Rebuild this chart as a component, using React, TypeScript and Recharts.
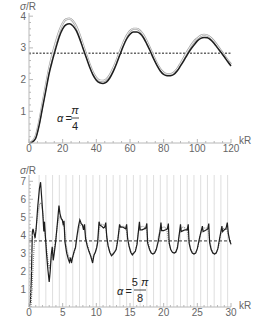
import React from "react";
import { Line, LineChart, ReferenceLine, XAxis, YAxis } from "recharts";

// top panel: alpha = pi/4, kR 0..120
const topKR = [0, 2, 4, 6, 8, 10, 12, 14, 16, 18, 20, 22, 24, 26, 28, 30, 32, 34, 36, 38, 40, 42, 44, 46, 48, 50, 52, 54, 56, 58, 60, 62, 64, 66, 68, 70, 72, 74, 76, 78, 80, 82, 84, 86, 88, 90, 92, 94, 96, 98, 100, 102, 104, 106, 108, 110, 112, 114, 116, 118, 120];
const topBlack = [0, 0.03, 0.15, 0.55, 1.1, 1.65, 2.2, 2.62, 3.0, 3.35, 3.6, 3.73, 3.76, 3.7, 3.55, 3.3, 3.0, 2.7, 2.4, 2.15, 1.98, 1.9, 1.88, 1.92, 2.05, 2.25, 2.5, 2.78, 3.05, 3.28, 3.43, 3.5, 3.5, 3.45, 3.32, 3.12, 2.9, 2.66, 2.45, 2.27, 2.16, 2.12, 2.12, 2.16, 2.27, 2.43, 2.6, 2.78, 2.95, 3.09, 3.22, 3.3, 3.33, 3.32, 3.25, 3.14, 3.0, 2.86, 2.72, 2.57, 2.43];
const topGray = [0, 0.05, 0.22, 0.65, 1.22, 1.8, 2.35, 2.8, 3.18, 3.52, 3.77, 3.9, 3.92, 3.85, 3.68, 3.42, 3.1, 2.78, 2.48, 2.22, 2.05, 1.97, 1.96, 2.01, 2.14, 2.35, 2.6, 2.88, 3.15, 3.38, 3.53, 3.6, 3.6, 3.54, 3.4, 3.2, 2.97, 2.73, 2.51, 2.33, 2.22, 2.17, 2.17, 2.22, 2.33, 2.5, 2.69, 2.88, 3.05, 3.2, 3.3, 3.38, 3.41, 3.39, 3.32, 3.2, 3.06, 2.91, 2.76, 2.61, 2.48];
const topMean = 2.83;
const topXLabels = [0, 20, 40, 60, 80, 100, 120];
const topYLabels = [1, 2, 3, 4];

// bottom panel: alpha = 5pi/8, kR 0..30
const botBlack: [number, number][] = [
  [0.05, 0], [0.2, 0.3], [0.35, 1.6], [0.5, 4.2], [0.6, 4.35], [0.75, 4.1], [0.9, 3.85], [1.05, 4.3], [1.3, 5.6], [1.55, 6.6], [1.72, 6.95], [1.9, 6.0], [2.05, 5.2], [2.2, 4.2], [2.3, 4.75], [2.45, 3.85], [2.6, 3.0], [2.8, 2.1], [3.0, 1.4],
  [3.15, 2.0], [3.3, 2.9], [3.45, 3.35], [3.6, 2.6], [3.75, 3.0], [3.95, 3.6], [4.2, 4.6], [4.45, 5.65], [4.6, 5.2], [4.8, 4.9], [4.95, 4.85], [5.1, 4.55], [5.2, 4.8], [5.35, 3.6], [5.6, 3.0], [5.85, 2.65], [6.0, 2.5], [6.15, 2.75], [6.3, 2.45], [6.5, 2.8], [6.7, 3.1], [6.9, 3.3],
  [7.1, 3.9], [7.35, 4.5], [7.55, 4.85], [7.75, 4.65], [7.95, 4.55], [8.1, 4.3], [8.25, 4.6], [8.4, 3.8], [8.65, 3.4], [8.9, 3.1], [9.15, 2.85], [9.45, 2.45], [9.65, 2.9], [9.85, 3.05], [10.05, 3.3], [10.2, 3.6], [10.4, 4.75],
  [10.55, 4.55], [10.8, 4.5], [11.05, 4.4], [11.25, 4.45], [11.4, 4.7], [11.55, 3.9], [11.75, 3.4], [12.0, 3.05], [12.25, 2.85], [12.5, 2.95], [12.7, 3.05], [12.95, 3.2], [13.2, 3.75], [13.45, 4.6],
  [13.6, 4.45], [13.9, 4.45], [14.15, 4.4], [14.35, 4.35], [14.5, 4.6], [14.65, 3.8], [14.85, 3.4], [15.1, 3.05], [15.35, 2.9], [15.55, 3.0], [15.8, 3.1], [16.05, 3.5],
  [16.3, 4.4], [16.4, 4.75], [16.5, 4.3], [16.8, 4.3], [17.1, 4.35], [17.35, 4.4], [17.5, 4.65], [17.62, 3.55], [17.9, 3.2], [18.15, 3.0], [18.4, 2.95], [18.65, 3.0], [18.9, 3.2], [19.2, 3.65],
  [19.45, 4.2], [19.6, 4.7], [19.7, 4.25], [20.0, 4.25], [20.3, 4.3], [20.55, 4.35], [20.7, 4.65], [20.82, 3.55], [21.05, 3.2], [21.3, 3.05], [21.55, 3.0], [21.8, 3.05], [22.05, 3.3],
  [22.3, 4.0], [22.5, 4.6], [22.6, 4.2], [22.9, 4.25], [23.2, 4.3], [23.5, 4.3], [23.65, 4.6], [23.78, 3.55], [24.0, 3.2], [24.25, 3.0], [24.5, 2.95], [24.75, 3.0], [25.0, 3.25],
  [25.3, 3.8], [25.55, 4.2], [25.75, 4.5], [25.85, 4.2], [26.1, 4.25], [26.35, 4.3], [26.55, 4.35], [26.7, 4.65], [26.82, 3.6], [27.05, 3.2], [27.3, 3.0], [27.55, 2.95], [27.8, 3.0], [28.05, 3.25],
  [28.3, 3.8], [28.55, 4.3], [28.65, 4.5], [28.75, 4.2], [29.0, 4.3], [29.25, 4.35], [29.45, 4.7], [29.6, 4.1], [29.8, 3.7], [30.0, 3.5],
];
const botGray: [number, number][] = [
  [0.3, 0], [0.45, 1.0], [0.6, 2.2], [0.75, 3.3], [0.9, 3.95], [1.1, 4.5], [1.35, 5.3], [1.6, 5.75], [1.8, 5.8], [2.0, 5.4], [2.2, 4.7], [2.4, 4.0], [2.6, 3.3], [2.8, 2.6], [3.0, 2.2],
  [3.2, 2.4], [3.4, 2.9], [3.6, 3.2], [3.8, 3.3], [4.0, 3.8], [4.2, 4.5], [4.45, 5.0], [4.65, 5.05], [4.85, 4.9], [5.05, 4.7], [5.25, 4.4], [5.45, 3.6], [5.7, 3.1], [5.95, 2.75], [6.2, 2.65], [6.45, 2.75], [6.7, 3.0], [6.95, 3.4],
  [7.2, 3.95], [7.45, 4.45], [7.7, 4.65], [7.95, 4.6], [8.2, 4.45], [8.4, 4.0], [8.65, 3.5], [8.9, 3.15], [9.2, 2.85], [9.45, 2.7], [9.7, 2.9], [9.95, 3.15],
  [10.2, 3.7], [10.45, 4.4], [10.7, 4.6], [10.95, 4.6], [11.2, 4.55], [11.45, 4.3], [11.7, 3.5], [11.95, 3.1], [12.2, 2.95], [12.45, 2.95], [12.7, 3.05], [12.95, 3.3],
  [13.2, 3.85], [13.5, 4.45], [13.8, 4.5], [14.1, 4.5], [14.4, 4.4], [14.65, 3.85], [14.9, 3.35], [15.2, 3.05], [15.45, 2.95], [15.7, 3.05], [15.95, 3.35],
  [16.25, 4.15], [16.55, 4.45], [16.85, 4.5], [17.15, 4.45], [17.45, 4.3], [17.7, 3.6], [17.95, 3.2], [18.2, 3.0], [18.45, 2.95], [18.7, 3.05], [18.95, 3.3],
  [19.25, 4.0], [19.55, 4.4], [19.85, 4.45], [20.15, 4.45], [20.45, 4.35], [20.75, 3.7], [21.0, 3.25], [21.25, 3.05], [21.5, 3.0], [21.75, 3.05], [22.0, 3.3],
  [22.3, 4.0], [22.6, 4.4], [22.9, 4.45], [23.2, 4.4], [23.5, 4.3], [23.8, 3.6], [24.05, 3.2], [24.3, 3.0], [24.55, 2.95], [24.8, 3.05], [25.1, 3.35],
  [25.4, 3.95], [25.7, 4.3], [26.0, 4.4], [26.3, 4.4], [26.6, 4.3], [26.85, 3.7], [27.1, 3.25], [27.35, 3.0], [27.6, 2.95], [27.85, 3.05], [28.15, 3.35],
  [28.45, 4.0], [28.75, 4.35], [29.05, 4.4], [29.35, 4.35], [29.65, 3.95], [30.0, 3.45],
];
const botMean = 3.68;
const botXLabels = [0, 5, 10, 15, 20, 25, 30];
const botYLabels = [1, 2, 3, 4, 5, 6, 7];
const botGridX = [1.5, 2.5, 3.5, 4.5, 5.5, 6.5, 7.5, 8.5, 9.5, 10.5, 11.5, 12.5, 13.5, 14.5, 15.5, 16.5, 17.5, 18.5, 19.5, 20.5, 21.5, 22.5, 23.5, 24.5, 25.5, 26.5, 27.5, 28.5, 29.5];

const topData = topKR.map((k, i) => ({ k, black: topBlack[i], gray: topGray[i] }));
const botBlackData = botBlack.map(([k, v]) => ({ k, v }));
const botGrayData = botGray.map(([k, v]) => ({ k, v }));

const FONT = "Liberation Sans, Arial, sans-serif";
const AXIS = "#b8b8b8";
const LABEL = "#666";

const minors = (max: number, step: number) =>
  Array.from({ length: Math.round(max / step) + 1 }, (_, i) => +(i * step).toFixed(3));

const makeYTick = (labels: number[]) => (props: any) => {
  const { x, y, payload } = props;
  const major = labels.some((l) => Math.abs(l - payload.value) < 1e-6);
  return (
    <g>
      <line x1={x} x2={x + (major ? 4 : 2)} y1={y} y2={y} stroke={AXIS} />
      {major && (
        <text x={x - 3} y={y + 3.5} textAnchor="end" fontSize={10} fontFamily={FONT} fill={LABEL}>
          {Math.round(payload.value)}
        </text>
      )}
    </g>
  );
};

const makeXTick = (labels: number[]) => (props: any) => {
  const { x, y, payload } = props;
  const major = labels.includes(payload.value);
  return (
    <g>
      <line x1={x} x2={x} y1={y} y2={y - (major ? 4 : 2)} stroke={AXIS} />
      {major && (
        <text x={x} y={y + 9} textAnchor="middle" fontSize={10} fontFamily={FONT} fill={LABEL}>
          {payload.value}
        </text>
      )}
    </g>
  );
};

export default function App() {
  return (
    <div style={{ position: "absolute", left: 0, top: 0, width: 269, height: 319, background: "#fff" }}>
      <div style={{ position: "absolute", left: 0, top: 0 }}>
        <LineChart width={269} height={155} data={topData} margin={{ top: 13, right: 38, bottom: 0, left: 0 }}>
          <XAxis
            dataKey="k" type="number" domain={[0, 120]} ticks={minors(120, 5)} interval={0}
            height={12} tickSize={0} tickMargin={0} tickLine={false} stroke={AXIS}
            tick={makeXTick(topXLabels)}
          />
          <YAxis
            type="number" domain={[0, 4.1]} ticks={minors(4, 0.2)} interval={0}
            width={29} tickSize={0} tickMargin={0} tickLine={false} stroke={AXIS}
            tick={makeYTick(topYLabels)}
          />
          <ReferenceLine y={topMean} stroke="#666" strokeWidth={1.3} strokeDasharray="2 1.5" />
          <Line dataKey="gray" type="monotone" stroke="#a4a4a4" strokeWidth={2.3} dot={false} isAnimationActive={false} />
          <Line dataKey="gray" type="monotone" stroke="#fff" strokeWidth={0.9} dot={false} isAnimationActive={false} />
          <Line dataKey="black" type="monotone" stroke="#1e1e1e" strokeWidth={1.5} dot={false} isAnimationActive={false} />
        </LineChart>
      </div>
      <div style={{ position: "absolute", left: 0, top: 155 }}>
        <LineChart width={269} height={164} margin={{ top: 20, right: 38, bottom: 0, left: 0 }}>
          <XAxis
            dataKey="k" type="number" domain={[0, 30]} ticks={minors(30, 1)} interval={0}
            height={12} tickSize={0} tickMargin={0} tickLine={false} stroke={AXIS}
            tick={makeXTick(botXLabels)}
          />
          <YAxis
            type="number" domain={[0, 7.35]} ticks={minors(7, 0.2)} interval={0}
            width={29} tickSize={0} tickMargin={0} tickLine={false} stroke={AXIS}
            tick={makeYTick(botYLabels)}
          />
          {botGridX.map((g) => (
            <ReferenceLine key={g} x={g} stroke="#dedede" strokeWidth={1} />
          ))}
          <ReferenceLine y={botMean} stroke="#333" strokeWidth={1} strokeDasharray="3 2" />
          <Line data={botGrayData} dataKey="v" type="linear" stroke="#8a8a8a" strokeWidth={1.1} strokeDasharray="1 1" dot={false} isAnimationActive={false} />
          <Line data={botBlackData} dataKey="v" type="linear" stroke="#1e1e1e" strokeWidth={1.2} dot={false} isAnimationActive={false} />
        </LineChart>
      </div>
      <svg width={269} height={319} style={{ position: "absolute", left: 0, top: 0, pointerEvents: "none" }}>
        <g fontFamily={FONT} fill={LABEL} fontSize={10}>
          <text x={20} y={10}><tspan fontStyle="italic">σ</tspan>/R</text>
          <text x={239} y={144}>kR</text>
          <text x={20} y={174}><tspan fontStyle="italic">σ</tspan>/R</text>
          <text x={239} y={309}>kR</text>
        </g>
        <g fontFamily={FONT} fill="#222" fontSize={11}>
          <text x={57} y={122} fontStyle="italic">α</text>
          <text x={65.5} y={122}>=</text>
          <text x={75} y={114} textAnchor="middle" fontStyle="italic">π</text>
          <line x1={71} x2={79} y1={118} y2={118} stroke="#222" strokeWidth={0.8} />
          <text x={75} y={130} textAnchor="middle">4</text>
          <text x={117} y={295} fontStyle="italic">α</text>
          <text x={125.5} y={295}>=</text>
          <text x={140} y={286} textAnchor="middle">5 <tspan fontStyle="italic">π</tspan></text>
          <line x1={134} x2={146} y1={290} y2={290} stroke="#222" strokeWidth={0.8} />
          <text x={140} y={302} textAnchor="middle">8</text>
        </g>
      </svg>
    </div>
  );
}
